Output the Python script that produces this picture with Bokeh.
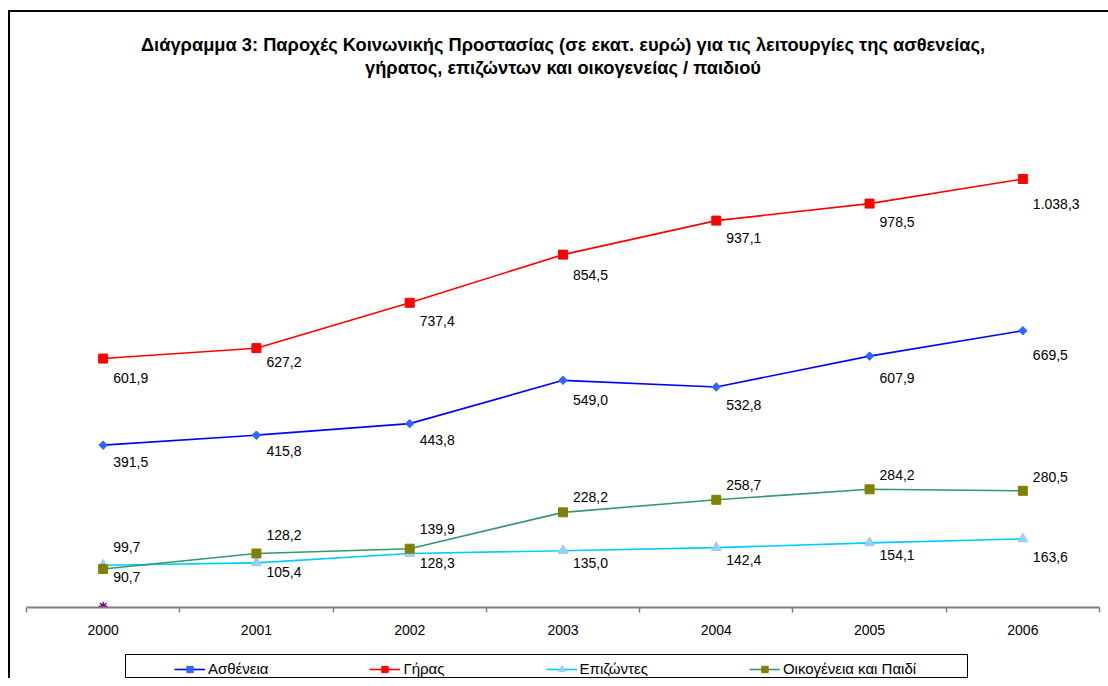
import numpy as np
from bokeh.plotting import figure
from bokeh.layouts import column
from bokeh.models import (Range1d, LinearAxis, FixedTicker, Legend, LegendItem,
                          Title, ColumnDataSource)
from bokeh.core.properties import value
from bokeh.embed import file_html
from bokeh.resources import INLINE

# ---------------- data ----------------
years = [2000, 2001, 2002, 2003, 2004, 2005, 2006]
astheneia = [391.5, 415.8, 443.8, 549.0, 532.8, 607.9, 669.5]
giras = [601.9, 627.2, 737.4, 854.5, 937.1, 978.5, 1038.3]
epizontes = [99.7, 105.4, 128.3, 135.0, 142.4, 154.1, 163.6]
oikogeneia = [90.7, 128.2, 139.9, 228.2, 258.7, 284.2, 280.5]
hidden_years = [2000]
hidden_values = [0.0]

series_names = ["Ασθένεια", "Γήρας", "Επιζώντες", "Οικογένεια και Παιδί"]
title_lines = [
    "Διάγραμμα 3: Παροχές Κοινωνικής Προστασίας (σε εκατ. ευρώ) για τις λειτουργίες της ασθενείας,",
    "γήρατος, επιζώντων και οικογενείας / παιδιού",
]

# ---------------- styling ----------------
FONT = "Liberation Sans"


def fmt(v):
    s = f"{v:,.1f}"
    return s.replace(",", "X").replace(".", ",").replace("X", ".")


styles = [
    dict(vals=astheneia, line="#0000FF", marker="square", angle=np.pi / 4, fill="#3366FF", size=6,
         dy=[17, 16, 16, 20, 18, 22, 24]),
    dict(vals=giras, line="#FF0000", marker="square", angle=0.0, fill="#FF0000", size=9,
         dy=[19, 14, 18, 20, 17, 18, 25]),
    dict(vals=epizontes, line="#00CCFF", marker="triangle", angle=0.0, fill="#99CCFF", size=10,
         dy=[-18, 9, 10, 12, 12, 12, 18]),
    dict(vals=oikogeneia, line="#339966", marker="square", angle=0.0, fill="#808000", size=9,
         dy=[8, -19, -20, -15, -15, -14, -14]),
]

W, H = 1098, 638
BL, BR = 16, 9

p = figure(width=W, height=H, output_backend="svg", toolbar_location=None,
           x_range=Range1d(years[0] - 0.5, years[-1] + 0.5), y_range=Range1d(-3, 1229),
           x_axis_location=None, y_axis_location=None,
           min_border_left=BL, min_border_right=BR, min_border_top=88, min_border_bottom=43)
p.outline_line_color = None
p.grid.visible = False
p.background_fill_color = "white"
p.border_fill_color = "white"
p.margin = 0
p.styles = {"border-top": "2px solid black"}

# x axis with ticks between categories
bounds = [y - 0.5 for y in years] + [years[-1] + 0.5]
xaxis = LinearAxis(ticker=FixedTicker(ticks=years, minor_ticks=bounds))
xaxis.axis_line_color = "#808080"
xaxis.axis_line_width = 2
xaxis.major_tick_line_color = None
xaxis.major_tick_in = 0
xaxis.major_tick_out = 0
xaxis.minor_tick_line_color = "#808080"
xaxis.minor_tick_line_width = 1.5
xaxis.minor_tick_in = 0
xaxis.minor_tick_out = 5
xaxis.major_label_text_font = FONT
xaxis.major_label_text_font_size = "14px"
xaxis.major_label_text_color = "black"
xaxis.major_label_standoff = 12
p.add_layout(xaxis, "below")

# two-line title: spacer nearest the frame, then line 2, then line 1
title_kw = dict(align="center", text_font=FONT, text_font_size="18.3px",
                text_font_style="bold", text_color="black")
p.add_layout(Title(text=" ", standoff=0, **title_kw), "above")
p.add_layout(Title(text=title_lines[1], standoff=0, **title_kw), "above")
p.add_layout(Title(text=title_lines[0], standoff=0, **title_kw), "above")

for name, st in zip(series_names, styles):
    src = ColumnDataSource(dict(x=years, y=st["vals"], lab=[fmt(v) for v in st["vals"]], dy=st["dy"]))
    p.line("x", "y", source=src, line_color=st["line"], line_width=1.6)
    p.scatter("x", "y", source=src, marker=st["marker"], angle=st["angle"], size=st["size"],
              fill_color=st["fill"], line_color=st["fill"], line_width=1)
    p.text("x", "y", text="lab", source=src, x_offset=10, y_offset="dy",
           text_align="left", text_baseline="middle", text_font=value(FONT),
           text_font_size="14px", text_color="black")

# hidden series marker
p.scatter(hidden_years, hidden_values, marker="asterisk", size=9, line_color="#800080", line_width=1.5)

# ---------------- legend (separate small framed figure) ----------------
LEG_W = 842
lg = figure(width=LEG_W + BL + BR, height=25, output_backend="svg", toolbar_location=None,
            x_range=Range1d(0, 1), y_range=Range1d(0, 1),
            x_axis_location=None, y_axis_location=None,
            min_border_left=BL, min_border_right=BR, min_border_top=1, min_border_bottom=1)
lg.grid.visible = False
lg.outline_line_color = "black"
lg.outline_line_width = 1
lg.margin = (5, 0, 0, 99)

items = []
for name, st in zip(series_names, styles):
    # legend-only renderers: same data, lying outside this small frame's ranges
    lr = lg.line(x=years, y=st["vals"], line_color=st["line"], line_width=1.6)
    sr = lg.scatter(x=years, y=st["vals"], marker=st["marker"], angle=st["angle"], size=st["size"],
                    fill_color=st["fill"], line_color=st["fill"], line_width=1)
    items.append(LegendItem(label=name, renderers=[lr, sr]))

leg = Legend(items=items, location=(49, 0), orientation="horizontal", padding=3, margin=0,
             spacing=101, glyph_width=31, glyph_height=16, label_height=16, label_standoff=3,
             label_text_font=FONT, label_text_font_size="15px", label_text_color="black",
             border_line_color=None, background_fill_alpha=0.0)
lg.add_layout(leg, "center")

layout = column(p, lg, spacing=0,
                styles={"margin-left": "8px", "margin-top": "10px",
                        "border-left": "2px solid black"})

open("out.html", "w").write(file_html(layout, INLINE))
